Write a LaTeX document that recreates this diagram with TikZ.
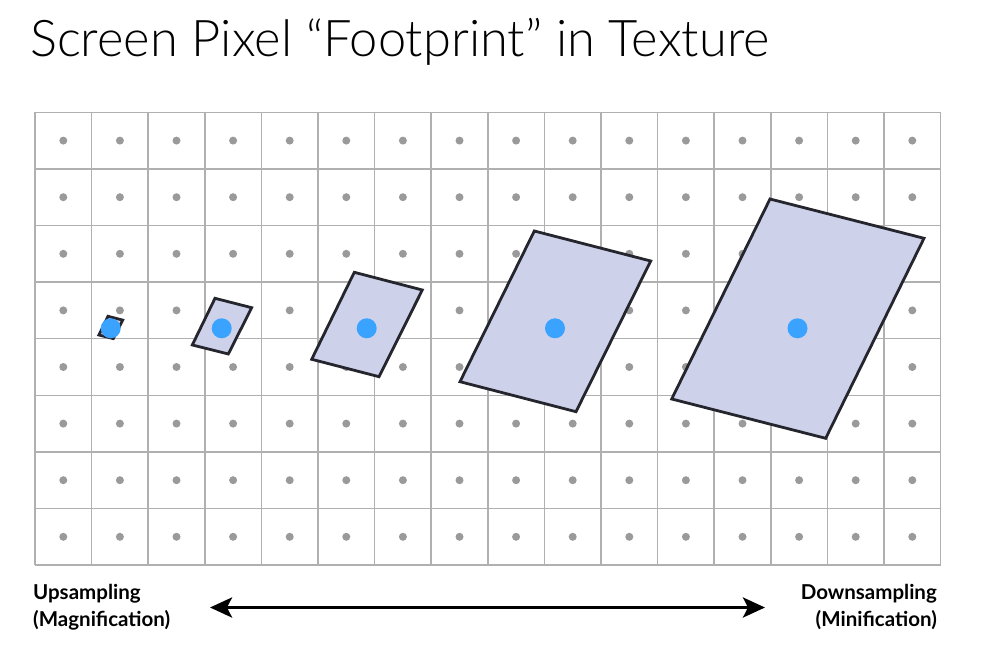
\documentclass[tikz,border=0pt]{standalone}
\usepackage{fontspec}
\setmainfont{Lato}
\newfontfamily\titlefont{Lato Light}
\usetikzlibrary{arrows.meta}
\definecolor{gridgray}{HTML}{B0B0B0}
\definecolor{dotgray}{HTML}{9A9A9A}
\definecolor{quadfill}{HTML}{CDD1EA}
\definecolor{quadline}{HTML}{25252D}
\definecolor{pixblue}{HTML}{3AA2FF}
\tikzset{
  gridline/.style={draw=gridgray, line width=1.5pt},
  texdot/.style={fill=dotgray},
  footprint/.style={fill=quadfill, draw=quadline, line width=2.8pt, line join=miter},
  pixdot/.style={fill=pixblue},
  lbl/.style={inner sep=0pt, font=\fontsize{20.5}{24}\selectfont\bfseries},
}
\begin{document}
\begin{tikzpicture}[x=1pt,y=-1pt]
\useasboundingbox (0,0) rectangle (982,652);
% title
\node[inner sep=0pt, anchor=base west, font=\titlefont\fontsize{50.6}{58}\selectfont] (title) at (30,56.5) {Screen Pixel “Footprint” in Texture};
% grid
\foreach \i in {0,...,16} {
  \draw[gridline] ({35+\i*56.6},112.3) -- ({35+\i*56.6},565.1);
}
\foreach \j in {0,...,8} {
  \draw[gridline] (35,{112.3+\j*56.6}) -- (940.6,{112.3+\j*56.6});
}
\foreach \i in {0,...,15} {
  \foreach \j in {0,...,7} {
    \fill[texdot] ({63.3+\i*56.6},{140.6+\j*56.6}) circle (4);
  }
}
% footprints
\draw[footprint] (110.7,328.3) ++(-2.7,-12) -- ++(14.7,3.8) -- ++(-9.4,18.5) -- ++(-14.4,-3.6) -- cycle;
\fill[pixdot] (110.7,328.3) circle (10);
\draw[footprint] (215,298.3) -- (251.7,307.7) -- (228.3,354) -- (192.3,345) -- cycle;
\fill[pixdot] (221.7,328.3) circle (10);
\draw[footprint] (354.3,272.3) -- (422.3,290) -- (379,376.7) -- (311.7,359.3) -- cycle;
\fill[pixdot] (366.7,328.3) circle (10);
\draw[footprint] (534.3,231) -- (650.7,261) -- (576,411.7) -- (460,381.7) -- cycle;
\fill[pixdot] (555,328.3) circle (10);
\draw[footprint] (770,199) -- (924,238.3) -- (825.7,438.3) -- (671.7,399) -- cycle;
\fill[pixdot] (797.5,328.3) circle (10);
% labels
\node[lbl, anchor=base west] (up1) at (33,599.3) {Upsampling};
\node[lbl, anchor=base west] (up2) at (33,626.7) {(Magnification)};
\node[lbl, anchor=base east] (down1) at (937,599.3) {Downsampling};
\node[lbl, anchor=base east] (down2) at (937,626.7) {(Minification)};
% arrow
\coordinate (aL) at (210,607.5);
\coordinate (aR) at (765,607.5);
\draw[line width=3.3pt, {Stealth[length=22pt,width=20pt,inset=5pt]}-{Stealth[length=22pt,width=20pt,inset=5pt]}] (aL) -- (aR);
\end{tikzpicture}
\end{document}
